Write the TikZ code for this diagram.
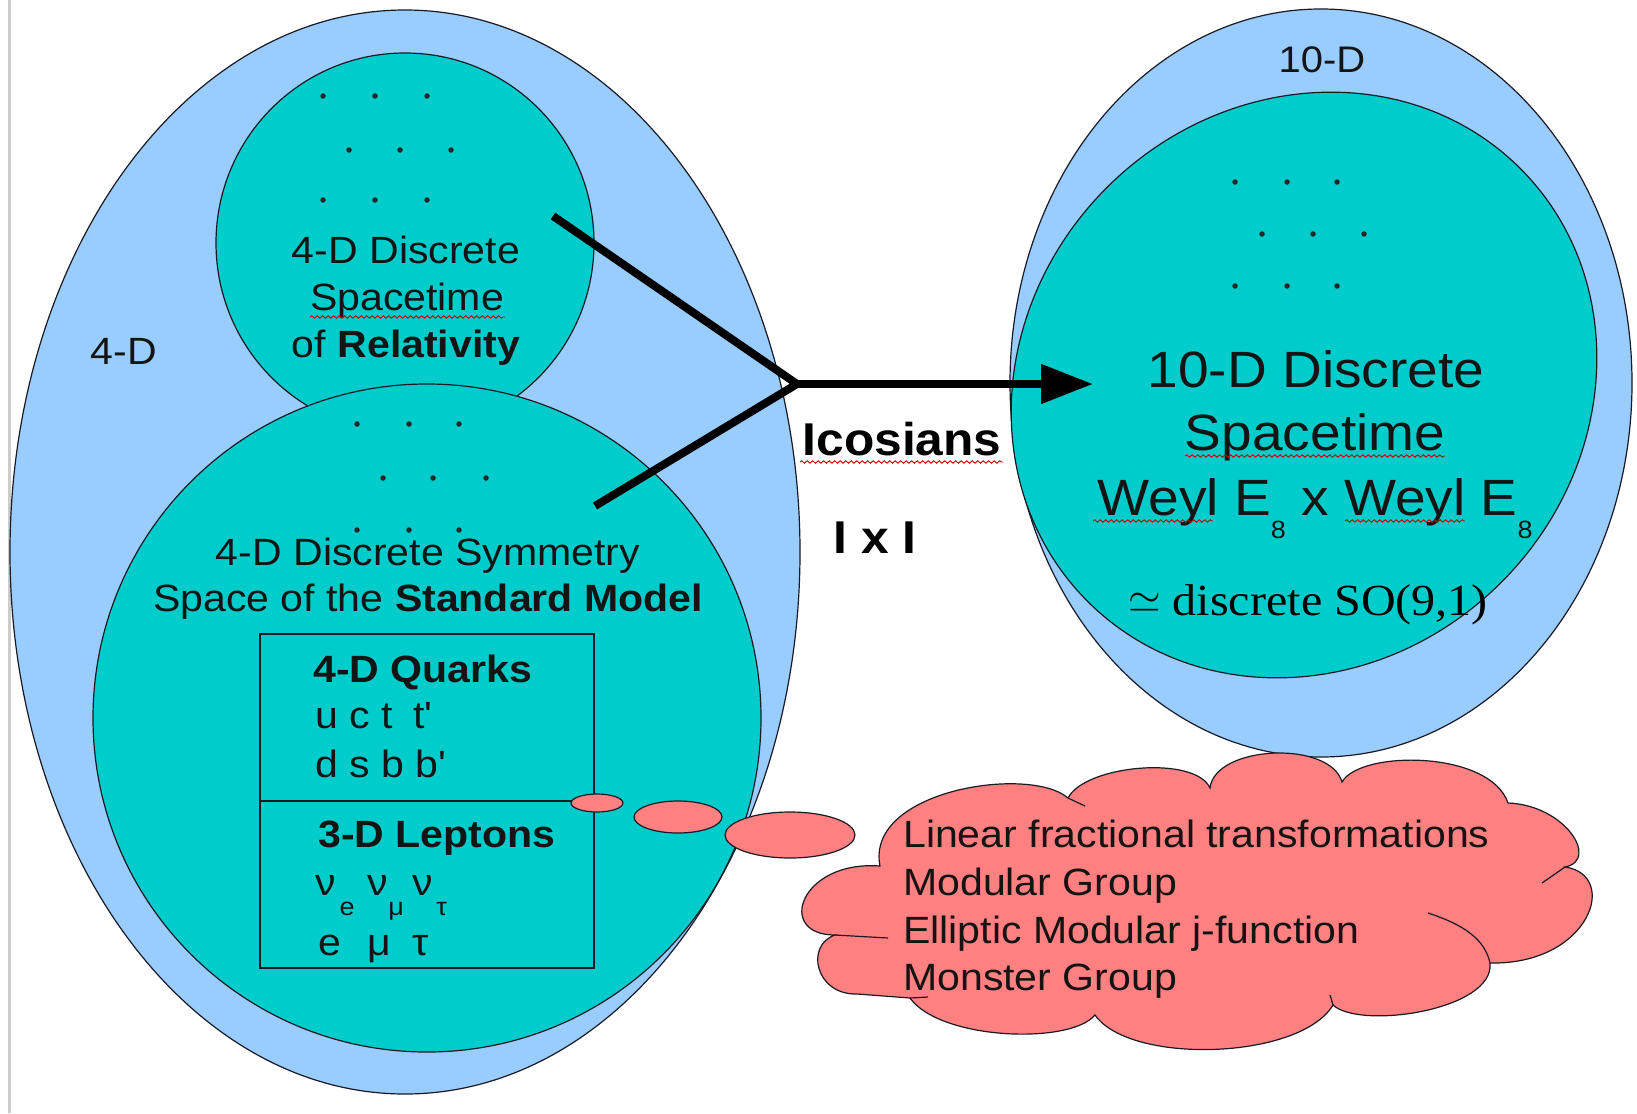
\documentclass[tikz,border=0pt]{standalone}
\usepackage{fontspec}
\setmainfont{Liberation Sans}[FakeStretch=1.08]
\newfontfamily\tnr{Liberation Serif}[FakeStretch=1.08]
\usetikzlibrary{shapes.geometric,arrows.meta,decorations.pathmorphing,calc}
\definecolor{lblue}{HTML}{99CCFF}
\definecolor{tealc}{HTML}{00CCCC}
\definecolor{coral}{HTML}{FF8080}
\definecolor{edgec}{HTML}{1A1A24}
\newcommand\lowsub[1]{\raisebox{-23pt}{\fontsize{25}{25}\selectfont #1}}
\newcommand\nusub[1]{\raisebox{-20pt}{\fontsize{25}{25}\selectfont #1}}
\begin{document}
\begin{tikzpicture}[x=1pt,y=-1pt,
  blob/.style={ellipse, draw=edgec, line width=1.2pt, inner sep=0pt, outer sep=0pt},
  bluefill/.style={blob, fill=lblue},
  tealfill/.style={blob, fill=tealc},
  bubble/.style={blob, fill=coral},
  gridpt/.style={circle, fill=black!85, inner sep=0pt, minimum size=5.5pt},
  txt/.style={font=\fontsize{38}{46}\selectfont, inner sep=0pt, text=black!92},
  bigtxt/.style={font=\fontsize{51}{64}\selectfont, inner sep=0pt, text=black!92},
  squig/.style={red!80!black, line width=0.9pt, decorate, decoration={snake, amplitude=1.3pt, segment length=5.5pt}},
  conn/.style={line width=8pt, line join=miter, line cap=butt, draw=black},
  thin/.style={draw=edgec, line width=1.2pt},
]
\useasboundingbox (0,0) rectangle (1637,1113);
\fill[white] (0,0) rectangle (1637,1113);
\draw[line width=3pt, black!20] (9.5,0) -- (9.5,1113);

% left group
\node[bluefill, minimum width=790pt, minimum height=1084pt] (fourD) at (405,552) {};
\node[tealfill, minimum width=378pt, minimum height=380pt] (rel) at (405,243) {};
\node[tealfill, minimum width=668pt, minimum height=668pt] (sm) at (427,718) {};

% right group
\node[bluefill, minimum width=622pt, minimum height=748pt] (tenD) at (1321,383) {};
\node[tealfill, minimum width=612pt, minimum height=558pt, rotate=45] (tenS) at (1304,385) {};

% dots
\foreach \n/\x/\y in {a1/323/96, a2/375/96, a3/427/96, a4/349/150, a5/400/150, a6/451/150, a7/323/200, a8/375/200, a9/427/200,
  b1/357/424, b2/409/424, b3/459/424, b4/383/478, b5/433/478, b6/486/478, b7/357/530, b8/409/530, b9/459/530,
  c1/1235/182, c2/1287/182, c3/1337/182, c4/1262/234, c5/1313/234, c6/1364/234, c7/1235/286, c8/1287/286, c9/1337/286}
  \node[gridpt] (d\n) at (\x,\y) {};

% texts left
\node[txt, anchor=base] (lbl4) at (124,364) {4-D};
\node[txt, anchor=base] (rel1) at (406,263) {4-D Discrete};
\node[txt, anchor=base] (rel2) at (407,310) {Spacetime};
\node[txt, anchor=base] (rel3) at (406,357) {of \textbf{Relativity}};
\node[txt, anchor=base] (sm1) at (428,565) {4-D Discrete Symmetry};
\node[txt, anchor=base] (sm2) at (428,611) {Space of the \textbf{Standard Model}};

% box
\node[draw=edgec, line width=1.2pt, minimum width=334pt, minimum height=334pt, inner sep=0pt] (box) at (427,801) {};
\draw[thin] (box.west) -- (box.east);
\node[txt, anchor=base west] (q1) at (313,682) {\textbf{4-D Quarks}};
\node[txt, anchor=base west] (q2) at (315,728) {u c t\hspace{9pt} t\textquotesingle};
\node[txt, anchor=base west] (q3) at (315,777) {d s b b\textquotesingle};
\node[txt, anchor=base west] (l1) at (318,847) {\textbf{3-D Leptons}};
\node[txt, anchor=base west] (l2) at (315,895) {ν\hspace{4pt}\nusub{e}\hspace{13pt}ν\nusub{μ}\hspace{9pt}ν\hspace{3pt}\nusub{τ}};
\node[txt, anchor=base west] (l3) at (318,955) {e\hspace{26pt}μ\hspace{22pt}τ};

% right texts
\node[txt, font=\fontsize{37}{44}\selectfont, anchor=base] (lbl10) at (1322,73) {10-D};
\node[bigtxt, anchor=base] (ten1) at (1316,387) {10-D Discrete};
\node[bigtxt, anchor=base] (ten2) at (1315,450) {Spacetime};
\node[bigtxt, anchor=base] (ten3) at (1315,515) {Weyl E\lowsub{8} x Weyl E\lowsub{8}};
\node[anchor=base west, inner sep=0pt, font=\tnr\fontsize{44.5}{50}\selectfont] (so) at (1128,615) {\raisebox{3pt}{\scalebox{4.2}{\fontsize{10}{12}\selectfont$\simeq$}}\hspace{12pt}discrete SO(9,1)};

% arrow
\coordinate (aUp) at (553,216);
\coordinate (aLo) at (595,506);
\coordinate (aJ) at (797,384);
\coordinate (aTip) at (1093,384);
\draw[conn] (aUp) -- (aJ) -- (aLo);
\draw[conn, -{Triangle[length=52pt,width=38pt]}] (aJ) -- (aTip);
\node[anchor=base, inner sep=0pt, font=\bfseries\fontsize{46}{50}\selectfont] (ico) at (902,455) {Icosians};
\node[anchor=base, inner sep=0pt, font=\bfseries\fontsize{46}{50}\selectfont] (ixi) at (875,553) {I x I};

% bubbles
\node[bubble, minimum width=52pt, minimum height=18pt] (b1) at (597,803) {};
\node[bubble, minimum width=88pt, minimum height=32pt] (b2) at (678,817) {};
\node[bubble, minimum width=130pt, minimum height=46pt] (b3) at (790,835) {};

% cloud
\path[fill=coral, draw=edgec, line width=1.2pt] (880,866)
  .. controls (865,790) and (1030,765) .. (1068,798)
  .. controls (1085,765) and (1195,755) .. (1210,788)
  .. controls (1215,745) and (1330,740) .. (1342,782)
  .. controls (1360,750) and (1490,750) .. (1508,803)
  .. controls (1565,805) and (1600,860) .. (1565,867)
  .. controls (1620,875) and (1590,965) .. (1490,963)
  .. controls (1495,1010) and (1360,1030) .. (1333,1005)
  .. controls (1300,1060) and (1130,1065) .. (1095,1015)
  .. controls (1070,1045) and (940,1040) .. (910,998)
  -- (857,994)
  .. controls (815,995) and (805,945) .. (835,935)
  .. controls (775,935) and (800,860) .. (880,866) -- cycle;
\draw[thin] (1068,798) -- (1085,806);
\draw[thin] (1565,867) -- (1542,883);
\draw[thin] (1428,913) .. controls (1465,925) and (1485,940) .. (1490,963);
\draw[thin] (1333,1005) -- (1330,995);
\draw[thin] (835,935) -- (888,938);
\draw[thin] (910,998) -- (928,997);
\node[txt, anchor=base west] (c1) at (903,847) {Linear fractional transformations};
\node[txt, anchor=base west] (c2) at (903,895) {Modular Group};
\node[txt, anchor=base west] (c3) at (903,943) {Elliptic Modular j-function};
\node[txt, anchor=base west] (c4) at (903,990) {Monster Group};

% squiggly underlines
\draw[squig] (310,317) -- (505,317);
\draw[squig] (800,462) -- (1003,462);
\draw[squig] (1185,456) -- (1445,456);
\draw[squig] (1093,521) -- (1213,521);
\draw[squig] (1345,521) -- (1465,521);
\end{tikzpicture}
\end{document}
